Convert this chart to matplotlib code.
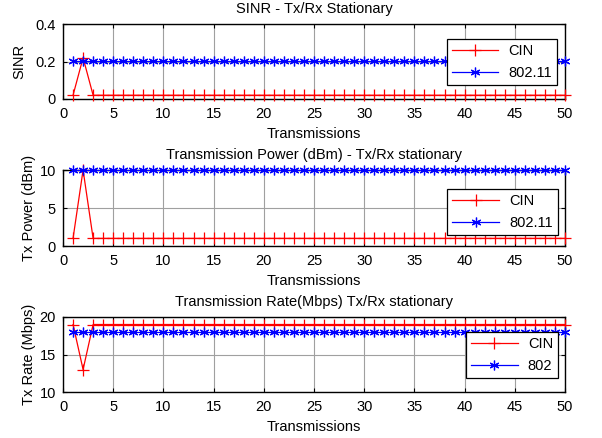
import matplotlib
matplotlib.use('Agg')
import matplotlib.pyplot as plt
import numpy as np

plt.rcParams['font.family'] = ['Liberation Sans', 'DejaVu Sans']
plt.rcParams['font.size'] = 10

# datos
transmissions = np.arange(1, 51)
sinr_cin = [0.02, 0.22] + [0.02] * 48
sinr_80211 = [0.205] * 50
power_cin = [1, 10] + [1] * 48
power_80211 = [10] * 50
rate_cin = [19, 13] + [19] * 48
rate_802 = [18] * 50

panels = [
    dict(title='SINR - Tx/Rx Stationary', ylabel='SINR', ylim=(0, 0.4),
         yticks=[0, 0.2, 0.4], yticklabels=['0', '0.2', '0.4'],
         cin=sinr_cin, other=sinr_80211, other_label='802.11',
         rect=[63, 24, 565, 99], leg=(446, 38, 558, 86), ypad=7),
    dict(title='Transmission Power (dBm) - Tx/Rx stationary', ylabel='Tx Power (dBm)',
         ylim=(0, 10), yticks=[0, 5, 10], yticklabels=['0', '5', '10'],
         cin=power_cin, other=power_80211, other_label='802.11',
         rect=[63, 170, 565, 246], leg=(447, 187, 558, 237), ypad=3),
    dict(title='Transmission Rate(Mbps) Tx/Rx stationary', ylabel='Tx Rate (Mbps)',
         ylim=(10, 20), yticks=[10, 15, 20], yticklabels=['10', '15', '20'],
         cin=rate_cin, other=rate_802, other_label='802',
         rect=[63, 317, 565, 392], leg=(466, 330, 558, 380), ypad=3),
]

W, H = 602, 438
fig = plt.figure(figsize=(W / 100, H / 100), dpi=100)
asterisk = (6, 2, 0)

for p in panels:
    x0, y0, x1, y1 = p['rect']
    ax = fig.add_axes([x0 / W, 1 - y1 / H, (x1 - x0) / W, (y1 - y0) / H])
    ax.plot(transmissions, p['cin'], 'r-', marker='+', ms=9, mew=0.9, lw=0.9,
            label='CIN', clip_on=False, zorder=3)
    ax.plot(transmissions, p['other'], 'b-', marker=asterisk, ms=7, mew=0.9, lw=0.9,
            label=p['other_label'], clip_on=False, zorder=3)
    ax.set_xlim(0, 50)
    ax.set_ylim(*p['ylim'])
    ax.set_xticks(range(0, 51, 5))
    ax.set_yticks(p['yticks'])
    ax.set_yticklabels(p['yticklabels'])
    ax.grid(True, color='#a0a0a0', lw=0.8)
    ax.tick_params(direction='in', top=True, right=True, length=3, labelsize=10.5)
    ax.tick_params(axis='x', pad=6)
    ax.tick_params(axis='y', pad=5)
    for s in ax.spines.values():
        s.set_linewidth(1.0)
    ax.set_title(p['title'], fontsize=10.5, pad=8)
    ax.set_xlabel('Transmissions', fontsize=10.5, labelpad=4)
    ax.set_ylabel(p['ylabel'], fontsize=10.5, labelpad=p['ypad'])
    lx0, ly0, lx1, ly1 = p['leg']
    # caja de leyenda en coordenadas de ejes
    bx = (lx0 - x0) / (x1 - x0)
    by = 1 - (ly1 - y0) / (y1 - y0)
    bw = (lx1 - lx0) / (x1 - x0)
    bh = (ly1 - ly0) / (y1 - y0)
    leg = ax.legend(loc='center', bbox_to_anchor=(bx, by, bw, bh), fancybox=False,
                    edgecolor='black', framealpha=1, fontsize=10.5, handlelength=3.2,
                    borderpad=0.35, labelspacing=0.5, handletextpad=0.7)
    leg.get_frame().set_linewidth(0.9)

fig.savefig('out.png', dpi=100)
